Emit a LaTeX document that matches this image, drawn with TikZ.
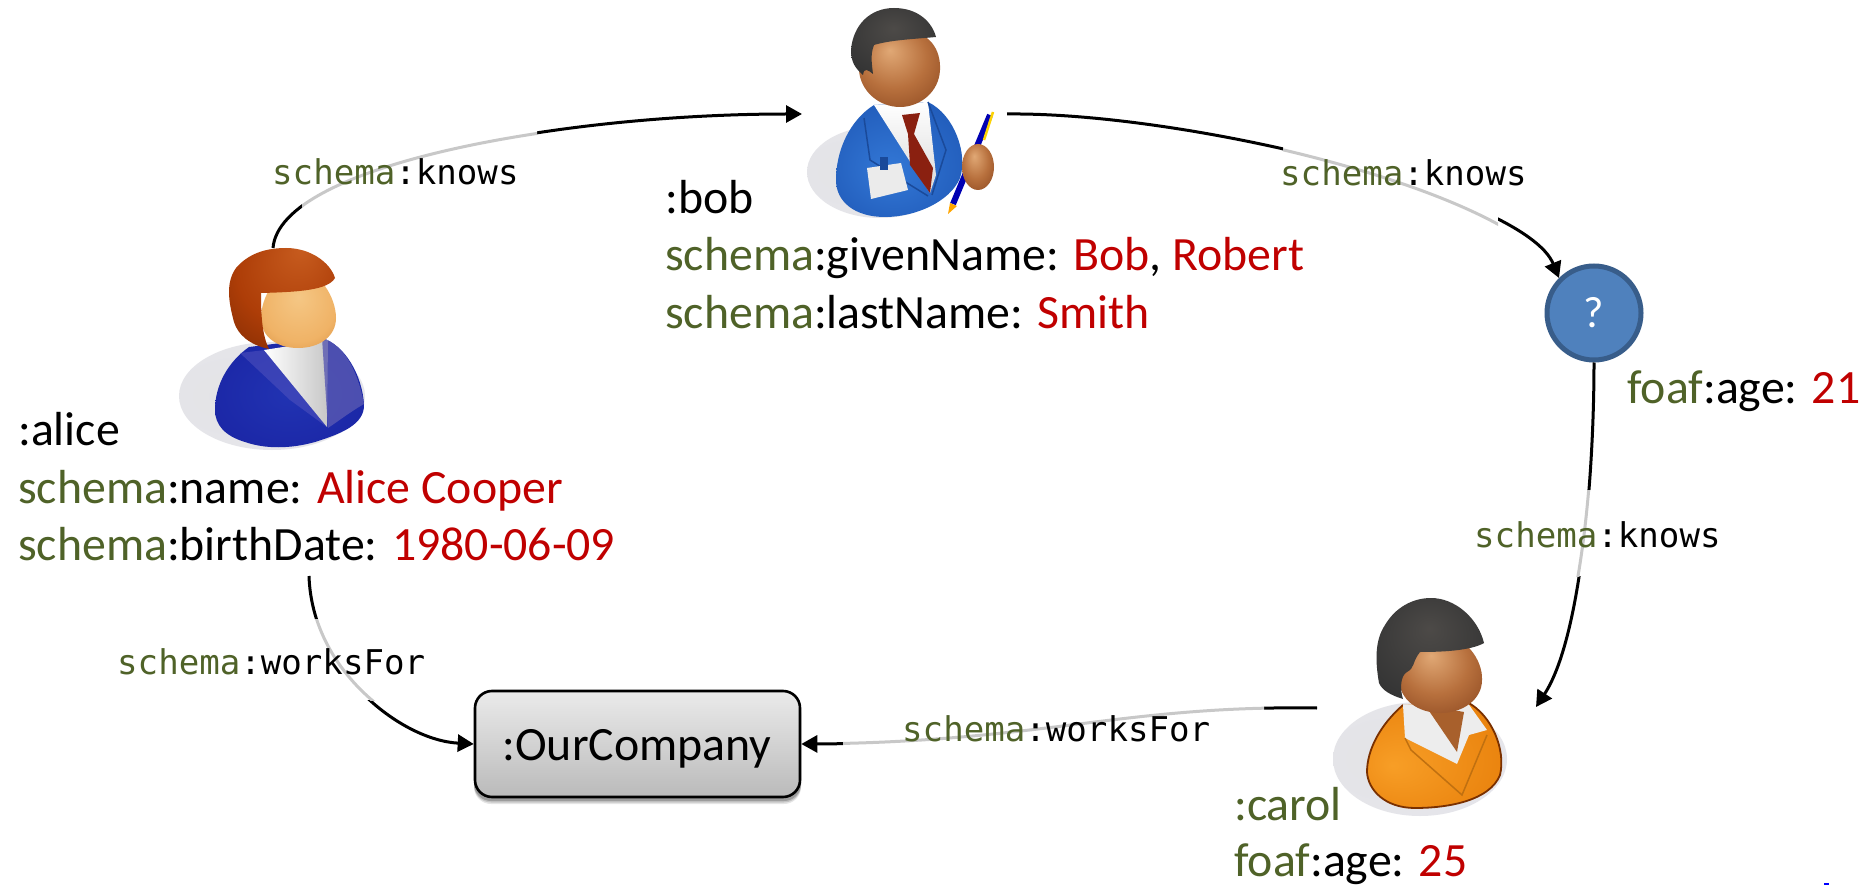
\documentclass[tikz,border=0pt]{standalone}
\usepackage{fontspec}
\setmainfont{Carlito}
\newfontfamily\labfont{DejaVu Sans Mono}
\usetikzlibrary{arrows.meta}
\definecolor{nsgreen}{HTML}{4F6228}
\definecolor{litred}{HTML}{C00000}
\definecolor{qfill}{HTML}{4F81BD}
\definecolor{qedge}{HTML}{385D8A}
\definecolor{halo}{HTML}{C8C8C8}
\definecolor{coatline}{HTML}{1A4A9A}
\definecolor{tiered}{HTML}{8A2010}
\definecolor{carolline}{HTML}{7A3000}
\definecolor{lapel}{HTML}{C07010}
\definecolor{neck}{HTML}{A8602C}
\pgfdeclareradialshading{softdisc}{\pgfpoint{-12bp}{0bp}}{rgb(0bp)=(.89,.89,.90);rgb(30bp)=(.90,.90,.92);rgb(44bp)=(.96,.96,.96);rgb(60bp)=(1,1,1)}
\pgfdeclareradialshading{hairbrown}{\pgfpoint{10bp}{25bp}}{rgb(0bp)=(.78,.36,.12);rgb(25bp)=(.68,.24,.03);rgb(50bp)=(.42,.13,0)}
\pgfdeclareradialshading{hairdark}{\pgfpoint{0bp}{10bp}}{rgb(0bp)=(.30,.29,.28);rgb(30bp)=(.21,.21,.21);rgb(50bp)=(.13,.13,.13)}
\pgfdeclareradialshading{facelight}{\pgfpoint{0bp}{8bp}}{rgb(0bp)=(.96,.78,.52);rgb(25bp)=(.94,.70,.40);rgb(50bp)=(.78,.46,.14)}
\pgfdeclareradialshading{facedark}{\pgfpoint{-6bp}{12bp}}{rgb(0bp)=(.88,.66,.46);rgb(20bp)=(.72,.44,.24);rgb(50bp)=(.44,.18,.05)}
\pgfdeclareradialshading{coatblue}{\pgfpoint{0bp}{0bp}}{rgb(0bp)=(.13,.20,.70);rgb(35bp)=(.10,.14,.64);rgb(50bp)=(.07,.10,.55)}
\pgfdeclareradialshading{coatbob}{\pgfpoint{-5bp}{-5bp}}{rgb(0bp)=(.20,.47,.84);rgb(30bp)=(.13,.36,.73);rgb(50bp)=(.05,.22,.54)}
\pgfdeclareradialshading{coatorange}{\pgfpoint{-16bp}{-5bp}}{rgb(0bp)=(.97,.62,.15);rgb(30bp)=(.92,.52,.06);rgb(55bp)=(.80,.37,0)}
\tikzset{
  conn/.style={line width=3pt,draw=black,-{Triangle[length=16pt,width=17pt]}},
  connhalo/.style={line width=3pt,draw=halo},
  prop/.style={anchor=base west,inner sep=0pt,font=\fontsize{47.8}{48}\selectfont},
  edgelab/.style={anchor=base west,inner sep=0pt,font=\labfont\fontsize{34.1}{35}\selectfont},
  iconbox/.style={inner sep=0pt,minimum width=#1},
}
\newcommand{\nsg}[1]{\textcolor{nsgreen}{#1}}
\newcommand{\lit}[1]{\textcolor{litred}{#1}}
% #1,#2 = opposite corners of the part shown grey, #3 = the curve
\newcommand{\halocurve}[3]{%
  \begin{scope}[even odd rule]\clip (0,0) rectangle (1864,885) #1 rectangle #2;
    \draw[conn] #3;\end{scope}
  \begin{scope}\clip #1 rectangle #2;
    \draw[connhalo] #3;\end{scope}}
\begin{document}
\begin{tikzpicture}[x=1pt,y=-1pt]
\useasboundingbox (0,0) rectangle (1864,885);
\fill[white] (0,0) rectangle (1864,885);

% ---------- named anchors for connectors
\coordinate (aliceTop) at (273,248);
\coordinate (bobIn) at (802,114);
\coordinate (bobOut) at (1007,114);
\coordinate (alicePropsOut) at (309,576);
\coordinate (carolIn) at (1536,707);
\coordinate (carolOut) at (1317,708);

% ---------- nodes
\node[iconbox=180pt] (alice) at (272,350) {};
\node[iconbox=180pt] (bob) at (895,113) {};
\node[iconbox=180pt] (carol) at (1420,705) {};

% company box
\foreach \o/\a in {7/0.10,5.5/0.14,4/0.2}
  \fill[black,opacity=\a,rounded corners=17pt] (475-1,691+\o) rectangle (800+1,797+\o);
\node[draw=black,line width=2.6pt,rounded corners=17pt,top color=black!8,bottom color=black!27,
      minimum width=325pt,minimum height=106pt,inner sep=0pt] (company) at (637.5,744) {};
\node[prop,anchor=base] (companylabel) at (637,760) {:OurCompany};

% question node
\node[circle,draw=qedge,fill=qfill,line width=5pt,minimum size=94pt,inner sep=0pt,
      text=white,font=\fontsize{44}{44}\selectfont] (q) at (1594,313) {?};

% ---------- Alice icon
\shade[shading=softdisc] (272,396) ellipse [x radius=93,y radius=54];
\shade[shading=coatblue] (249,347) .. controls (228,362) and (215,385) .. (215,410)
  .. controls (215,425) and (225,436) .. (245,442) .. controls (265,449) and (290,449) .. (315,442)
  .. controls (340,434) and (365,425) .. (364,404) .. controls (362,375) and (345,345) .. (322,338) -- cycle;
\fill[blue!55!white!75!black,opacity=.5] (240,353) -- (265,350) -- (327,427) -- (290,400) -- cycle;
\shade[left color=white,right color=black!22] (264,350) -- (327,427) -- (328,340) -- cycle;
\fill[blue!50!white!70!black,opacity=.8] (322,338) .. controls (345,345) and (358,372) .. (364,404)
  .. controls (350,412) and (340,420) .. (328,428) -- cycle;
\shade[shading=facelight] (298,270) .. controls (320,270) and (336,298) .. (336,318)
  .. controls (336,336) and (320,348) .. (298,348) .. controls (276,348) and (261,336) .. (261,318)
  .. controls (261,298) and (276,270) .. (298,270);
\shade[shading=hairbrown] (286,248) .. controls (310,248) and (330,262) .. (335,278)
  .. controls (328,290) and (300,292) .. (261,293) .. controls (261,315) and (262,335) .. (269,349)
  .. controls (250,345) and (238,335) .. (234,322) .. controls (228,300) and (226,282) .. (236,268)
  .. controls (248,254) and (265,248) .. (286,248);

% ---------- Bob icon
\shade[shading=softdisc] (880,172) ellipse [x radius=73,y radius=46];
\shade[shading=coatbob] (874,105) .. controls (850,120) and (836,150) .. (836,180)
  .. controls (836,202) and (855,217) .. (885,217) .. controls (915,217) and (950,202) .. (960,178)
  .. controls (968,155) and (955,115) .. (928,102) -- cycle;
\shade[top color=white,bottom color=black!15] (874,105) -- (930,193) -- (936,175) -- (928,102) -- cycle;
\draw[coatline,line width=1.5pt] (864,118) -- (870,160) -- (928,196);
\draw[coatline,line width=1.5pt] (928,102) -- (946,150) -- (932,195);
\fill[tiered] (902,115) -- (920,113) -- (914,134) -- (933,168) -- (930,193) -- (910,165) -- (908,134) -- cycle;
\shade[shading=facedark] (900,30) .. controls (930,30) and (941,50) .. (940,70)
  .. controls (939,92) and (920,107) .. (900,107) .. controls (878,107) and (860,90) .. (859,70)
  .. controls (858,50) and (875,30) .. (900,30);
\shade[shading=hairdark] (894,8) .. controls (918,8) and (932,22) .. (936,37)
  .. controls (915,39) and (890,40) .. (874,45) .. controls (870,55) and (872,65) .. (873,74)
  .. controls (868,70) and (864,67) .. (863,75) .. controls (855,68) and (851,62) .. (851,50)
  .. controls (853,25) and (870,8) .. (894,8);
\fill[black!8] (867,168) -- (901,163) -- (908,190) -- (871,199) -- cycle;
\fill[coatline] (880,157) rectangle (888,170);
\draw[blue!70!black,line width=6pt] (990,115) -- (953,204);
\draw[yellow!70!orange,line width=2.5pt] (993,112) -- (984,140);
\fill[orange!70!yellow] (950,203) -- (957,206) -- (948,214) -- cycle;
\shade[shading=facedark] (978,167) ellipse [x radius=16,y radius=23];

% ---------- Carol icon
\shade[shading=softdisc] (1420,759) ellipse [x radius=87,y radius=57];
\shade[shading=coatorange] (1403,705) .. controls (1380,725) and (1367,750) .. (1367,772)
  .. controls (1368,790) and (1385,808) .. (1415,808) .. controls (1450,808) and (1490,800) .. (1500,775)
  .. controls (1506,750) and (1492,715) .. (1467,702) -- cycle;
\draw[carolline,line width=1.8pt] (1403,705) .. controls (1380,725) and (1367,750) .. (1367,772)
  .. controls (1368,790) and (1385,808) .. (1415,808) .. controls (1450,808) and (1490,800) .. (1500,775)
  .. controls (1506,750) and (1492,715) .. (1467,702);
\fill[black!7] (1403,705) -- (1405,738) -- (1457,764) -- (1469,735) -- (1487,730) -- (1467,702) -- cycle;
\fill[neck] (1425,705) -- (1457,752) -- (1464,712) -- cycle;
\draw[lapel,line width=1.5pt] (1405,738) -- (1411,750) -- (1462,795) -- (1487,735);
\shade[shading=facedark] (1441,635) .. controls (1465,635) and (1483,660) .. (1482,680)
  .. controls (1482,700) and (1462,713) .. (1441,713) .. controls (1418,713) and (1399,700) .. (1399,678)
  .. controls (1399,660) and (1418,635) .. (1441,635);
\shade[shading=hairdark] (1431,598) .. controls (1455,598) and (1478,618) .. (1484,643)
  .. controls (1470,651) and (1440,652) .. (1420,652) .. controls (1412,662) and (1415,668) .. (1407,672)
  .. controls (1400,676) and (1400,690) .. (1403,699) .. controls (1390,695) and (1382,690) .. (1379,683)
  .. controls (1375,660) and (1375,640) .. (1385,625) .. controls (1395,608) and (1412,598) .. (1431,598);

% ---------- connectors
\coordinate (c1a) at (280,165); \coordinate (c1b) at (560,114);
\coordinate (c2a) at (1190,112); \coordinate (c2b) at (1525,195);
\coordinate (c3a) at (1594,480); \coordinate (c3b) at (1580,640);
\coordinate (c4a) at (312,670); \coordinate (c4b) at (400,740);
\coordinate (c5a) at (1120,705); \coordinate (c5b) at (1040,743);

\halocurve{(302,90)}{(537,300)}{(aliceTop) .. controls (c1a) and (c1b) .. (bobIn)}
\halocurve{(1283,100)}{(1498,300)}{(bobOut) .. controls (c2a) and (c2b) .. (q.135)}
\halocurve{(1500,490)}{(1700,576)}{(q.south) .. controls (c3a) and (c3b) .. (carolIn)}
\halocurve{(250,619)}{(470,700)}{(alicePropsOut) .. controls (c4a) and (c4b) .. (company.west)}
\halocurve{(843,650)}{(1264,780)}{(carolOut) .. controls (c5a) and (c5b) .. (company.east)}

% ---------- edge labels
\node[edgelab] (l1) at (272,185) {\nsg{schema}:knows};
\node[edgelab] (l2) at (1280,186) {\nsg{schema}:knows};
\node[edgelab] (l3) at (1474,547) {\nsg{schema}:knows};
\node[edgelab] (l4) at (117,674) {\nsg{schema}:worksFor};
\node[edgelab] (l5) at (902,741) {\nsg{schema}:worksFor};

% ---------- property texts
\node[prop] (a1) at (18,445) {:alice};
\node[prop] (a2) at (18,503) {\nsg{schema}:name: \lit{Alice Cooper}};
\node[prop] (a3) at (18,560) {\nsg{schema}:birthDate: \lit{1980-06-09}};
\node[prop] (b1) at (665,214) {:bob};
\node[prop] (b2) at (665,271) {\nsg{schema}:givenName: \lit{Bob}, \lit{Robert}};
\node[prop] (b3) at (665,329) {\nsg{schema}:lastName: \lit{Smith}};
\node[prop] (q1) at (1627,403) {\nsg{foaf}:age: \lit{21}};
\node[prop] (c1) at (1234,820) {\nsg{:carol}};
\node[prop] (c2) at (1234,876) {\nsg{foaf}:age: \lit{25}};

% cropped fragment at the lower edge
\fill[blue] (1824,883) rectangle (1829,885);
\end{tikzpicture}
\end{document}
